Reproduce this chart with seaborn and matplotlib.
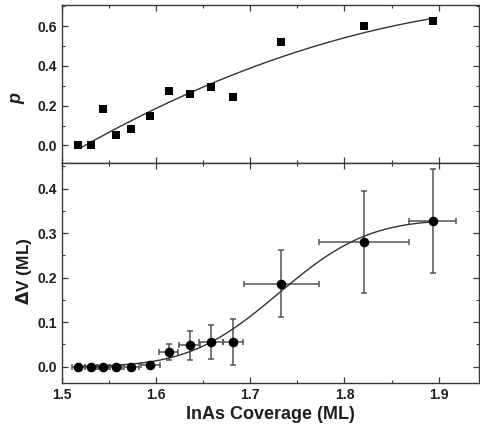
import math
import numpy as np
import pandas as pd
import seaborn as sns
import matplotlib.pyplot as plt
from matplotlib.ticker import MultipleLocator

sns.set_theme(style="ticks")
plt.rcParams['font.family'] = ['Liberation Sans', 'DejaVu Sans']
plt.rcParams['font.weight'] = 'bold'

# InAs coverage (ML) of each sample
coverage = [1.5173, 1.531, 1.544, 1.557, 1.5737, 1.5936, 1.6134, 1.6354,
            1.6585, 1.6815, 1.733, 1.8205, 1.894]
coverage_err = [0.007, 0.007, 0.007, 0.007, 0.008, 0.010, 0.010, 0.011,
                0.0128, 0.011, 0.040, 0.048, 0.025]

# dot density parameter p
p_values = [0.0, 0.0, 0.183, 0.052, 0.084, 0.147, 0.275, 0.26,
            0.295, 0.241, 0.521, 0.598, 0.624]

# transferred volume dV (ML)
dv_values = [0.0, 0.0, 0.0, 0.0, 0.0, 0.004, 0.032, 0.048,
             0.056, 0.056, 0.186, 0.280, 0.327]
dv_err = [0.0, 0.0, 0.0, 0.0, 0.0, 0.0, 0.018, 0.032,
          0.038, 0.052, 0.075, 0.115, 0.117]

# quadratic fit for p, in powers of (x - 1.5)
p_fit_coef = [-0.066, 2.773, -2.5]
p_fit_range = [1.5213, 1.894]

# error-function (cumulative normal) fit for dV
dv_amp, dv_center, dv_sigma = 0.33, 1.7302, 0.0746
dv_fit_range = [1.513, 1.894]

df = pd.DataFrame({"x": coverage, "xerr": coverage_err, "p": p_values,
                   "dv": dv_values, "dverr": dv_err})

xp = np.linspace(*p_fit_range, 200)
u = xp - 1.5
p_curve = pd.DataFrame({"x": xp, "y": p_fit_coef[0] + p_fit_coef[1] * u + p_fit_coef[2] * u ** 2})
xv = np.linspace(*dv_fit_range, 300)
erf = np.vectorize(math.erf)
dv_curve = pd.DataFrame({"x": xv,
                         "y": 0.5 * dv_amp * (1 + erf((xv - dv_center) / (math.sqrt(2) * dv_sigma)))})

ink = "#1e1e1e"
spine = "#3a3a3a"

fig = plt.figure(figsize=(4.81, 4.26), dpi=100)
ax1 = fig.add_axes([0.129, 0.617, 0.867, 0.371])
ax2 = fig.add_axes([0.129, 0.101, 0.867, 0.516], sharex=ax1)

# top panel
sns.lineplot(data=p_curve, x="x", y="y", ax=ax1, color="#333333", lw=1.0)
sns.scatterplot(data=df, x="x", y="p", ax=ax1, marker="s", s=38,
                color="black", edgecolor="black", linewidth=0, zorder=3)
ax1.set_ylim(-0.089, 0.705)
ax1.yaxis.set_major_locator(MultipleLocator(0.2))
ax1.yaxis.set_minor_locator(MultipleLocator(0.1))
ax1.set_ylabel("p", fontsize=13, fontstyle="italic", fontweight="bold", color=ink)
ax1.set_xlabel("")
ax1.tick_params(labelbottom=False)

# bottom panel
ax2.errorbar(df["x"], df["dv"], xerr=df["xerr"], yerr=df["dverr"], fmt="none",
             ecolor="#555555", elinewidth=1.1, capsize=2.2, capthick=1.1, zorder=2)
sns.lineplot(data=dv_curve, x="x", y="y", ax=ax2, color="#333333", lw=1.0, zorder=3)
sns.scatterplot(data=df, x="x", y="dv", ax=ax2, marker="o", s=48,
                color="black", edgecolor="black", linewidth=0, zorder=4)
ax2.set_ylim(-0.0365, 0.457)
ax2.yaxis.set_major_locator(MultipleLocator(0.1))
ax2.yaxis.set_minor_locator(MultipleLocator(0.05))
ax2.set_ylabel(r"$\Delta$V (ML)", fontsize=12.5, fontweight="bold", color=ink)
ax2.set_xlabel("InAs Coverage (ML)", fontsize=13, fontweight="bold", color=ink, labelpad=3)

ax2.set_xlim(1.5, 1.943)
ax2.xaxis.set_major_locator(MultipleLocator(0.1))
ax2.xaxis.set_minor_locator(MultipleLocator(0.05))

for ax in (ax1, ax2):
    for s in ax.spines.values():
        s.set_visible(True)
        s.set_color(spine)
        s.set_linewidth(1.0)
    ax.tick_params(which="both", direction="in", top=True, right=True,
                   colors=spine, labelcolor=ink, labelsize=10)
    ax.tick_params(which="major", length=4, width=0.9)
    ax.tick_params(which="minor", length=2.5, width=0.8)
    for lab in ax.get_xticklabels() + ax.get_yticklabels():
        lab.set_fontweight("bold")

ax1.yaxis.set_label_coords(-0.088, 0.41)
ax2.yaxis.set_label_coords(-0.068, 0.51)

fig.savefig("out.png", dpi=100)
